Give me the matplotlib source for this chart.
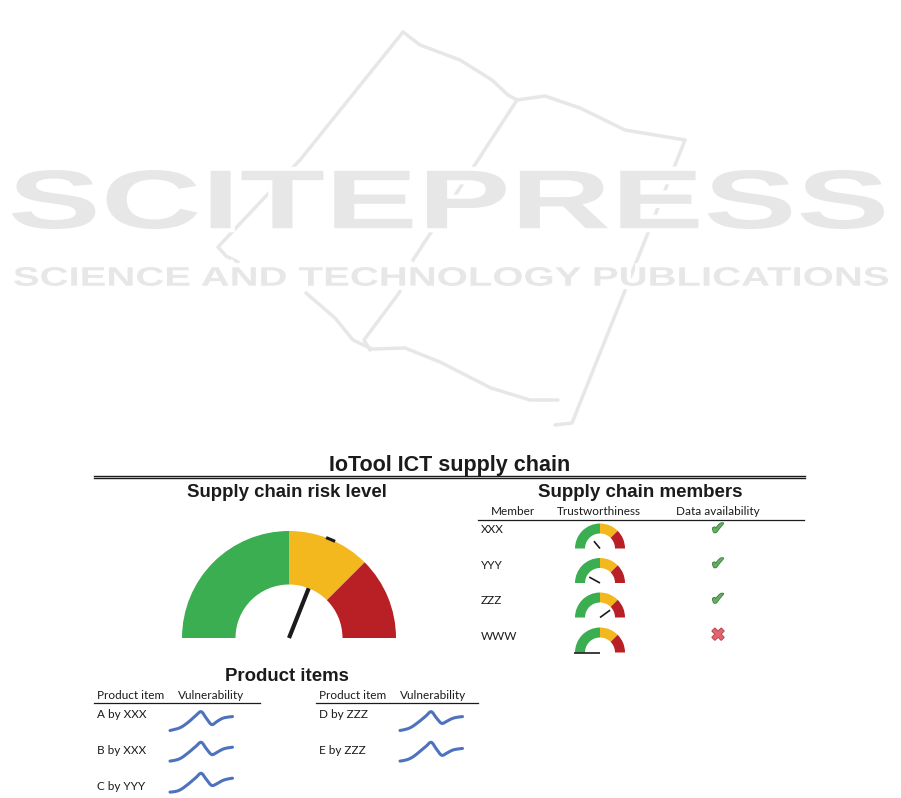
"""
IoTool ICT supply chain dashboard:
risk gauge, member trust gauges with data availability flags,
and product vulnerability sparklines. Saves out.png.
"""
import matplotlib

matplotlib.use("Agg")
import matplotlib.pyplot as plt
import matplotlib.patheffects as pe
import numpy as np
from matplotlib.font_manager import FontProperties
from matplotlib.patches import PathPatch
from matplotlib.path import Path
from matplotlib.textpath import TextPath
from matplotlib.transforms import Affine2D

W, H = 901, 798

# ---------- data ----------
dashboard_title = "IoTool ICT supply chain"
risk_level = 0.62                      # 0 = low risk, 1 = high risk
gauge_bands = [50, 25, 25]             # green / yellow / red share of the dial
band_colors = ["#3aae50", "#f2b81e", "#b92025"]

members = ["XXX", "YYY", "ZZZ", "WWW"]
trust = [0.28, 0.16, 0.80, 0.0]
data_available = [True, True, True, False]

products_left = ["A by XXX", "B by XXX", "C by YYY"]
products_right = ["D by ZZZ", "E by ZZZ"]
vuln_a = [3.00, 3.20, 3.47, 4.00, 4.67, 5.42, 6.00, 4.92, 3.95, 4.42, 4.92, 5.12, 5.22]
vuln_b = [3.00, 3.15, 3.45, 4.05, 4.75, 5.50, 6.15, 5.05, 4.10, 4.45, 4.95, 5.20, 5.33]
vuln_c = [3.00, 3.10, 3.40, 4.00, 4.70, 5.45, 6.15, 5.10, 4.12, 4.40, 4.90, 5.18, 5.33]
vuln_d = [3.00, 3.18, 3.48, 4.05, 4.72, 5.45, 6.15, 5.10, 4.20, 4.55, 5.00, 5.22, 5.33]
vuln_e = [3.00, 3.15, 3.45, 4.00, 4.70, 5.40, 6.05, 4.95, 3.95, 4.30, 4.75, 4.95, 5.05]

TITLE_FONT = "Liberation Sans"
BODY_FONT = "Lato"
INK = "#1b1b1b"
WATERMARK = "#e6e7e6"
SPARK = "#4e72be"

fig = plt.figure(figsize=(W / 100, H / 100), dpi=100)
ax = fig.add_axes([0, 0, 1, 1])
ax.set_xlim(0, W)
ax.set_ylim(H, 0)
ax.axis("off")


def px_axes(x0, y_top, w, h):
    """Axes placed by pixel box (origin top-left)."""
    return fig.add_axes([x0 / W, 1 - (y_top + h) / H, w / W, h / H])


def fit_text(s, x0, x1, y0, y1):
    """Watermark text stretched to fill a pixel box."""
    tp = TextPath((0, 0), s, size=100, prop=FontProperties(family="Liberation Sans", weight="bold"))
    bb = tp.get_extents()
    tr = (Affine2D().translate(-bb.x0, -bb.y0)
          .scale((x1 - x0) / bb.width, -(y1 - y0) / bb.height)
          .translate(x0, y1))
    path = tr.transform_path(tp)
    ax.add_patch(PathPatch(path, facecolor="white", edgecolor="white", lw=6, zorder=1))
    ax.add_patch(PathPatch(path, facecolor=WATERMARK, edgecolor="none", zorder=2))


def smooth_line(a, xs, ys, **kw):
    """Excel-style smoothed line: Catmull-Rom segments drawn as cubic Beziers."""
    p = np.column_stack([xs, ys]).astype(float)
    m = np.empty_like(p)
    m[1:-1] = (p[2:] - p[:-2]) / 2
    m[0] = p[1] - p[0]
    m[-1] = p[-1] - p[-2]
    verts, codes = [p[0]], [Path.MOVETO]
    for i in range(len(p) - 1):
        verts += [p[i] + m[i] / 3, p[i + 1] - m[i + 1] / 3, p[i + 1]]
        codes += [Path.CURVE4] * 3
    a.add_patch(PathPatch(Path(verts, codes), fill=False, clip_on=False, **kw))


# ---------- watermark (publisher logo) ----------
book = [
    [(403, 32), (300, 160), (218, 247), (226, 256), (238, 262)],
    [(403, 32), (420, 45), (460, 60), (492, 80), (508, 95), (517, 100)],
    [(517, 100), (545, 96), (580, 108), (625, 130), (685, 140)],
    [(685, 140), (624, 293), (572, 423), (555, 425)],
    [(517, 100), (413, 260), (399, 293), (364, 340), (370, 350)],
    [(306, 293), (335, 318), (353, 340), (372, 349), (405, 348), (440, 362),
     (491, 388), (530, 400), (558, 400)],
]
for line in book:
    xs, ys = zip(*line)
    ax.plot(xs, ys, color=WATERMARK, lw=2.5, solid_capstyle="round", zorder=0)
fit_text("SCITEPRESS", 12, 884, 170, 229)
fit_text("SCIENCE AND TECHNOLOGY PUBLICATIONS", 14, 888, 267, 286)

# ---------- headings and rules ----------
title_kw = dict(family=TITLE_FONT, weight="bold", color=INK, ha="center", va="baseline", zorder=5)
ax.text(450, 471, dashboard_title, fontsize=15.5, **title_kw)
for y in (475.5, 478.2):
    ax.plot([94, 805], [y, y], color=INK, lw=1.0, zorder=5)
ax.text(287, 497, "Supply chain risk level", fontsize=13.4, **title_kw)
ax.text(640, 497, "Supply chain members", fontsize=13.5, **title_kw)
ax.text(286.5, 681, "Product items", fontsize=13.4, **title_kw)

body_kw = dict(family=BODY_FONT, color=INK, va="baseline", fontsize=8.5, zorder=5)
for label, x in zip(["Member", "Trustworthiness", "Data availability"], [513, 599, 718]):
    ax.text(x, 515, label, ha="center", **body_kw)
ax.plot([478, 804], [519.5, 519.5], color=INK, lw=0.9)

for x0, x1 in [(94, 260), (316, 478)]:
    ax.text(x0 + 3, 699, "Product item", ha="left", **body_kw)
    ax.text(x0 + 84, 699, "Vulnerability", ha="left", **body_kw)
    ax.plot([x0, x1], [703, 703], color=INK, lw=0.9)


# ---------- gauges ----------
def gauge(cx, base_y, r, value, width, needle_len, needle_lw, tip_mark=False):
    pad = 0.06
    g = px_axes(cx - r * (1 + pad), base_y - r * (1 + pad), 2 * r * (1 + pad), r * (1 + pad))
    g.pie(gauge_bands + [sum(gauge_bands)], colors=band_colors + ["none"],
          startangle=180, counterclock=False, radius=1,
          wedgeprops=dict(width=width, linewidth=0))
    g.set_aspect("auto")
    g.set_xlim(-1 - pad, 1 + pad)
    g.set_ylim(0, 1 + pad)
    g.axis("off")
    ang = np.radians(180 - value * 180)
    g.plot([0, needle_len * np.cos(ang)], [0, needle_len * np.sin(ang)],
           color=INK, lw=needle_lw, solid_capstyle="butt", clip_on=False)
    if tip_mark:
        arc = np.radians(180 - value * 180 + np.array([-1.8, 0, 1.8]) - 1.3)
        g.plot(np.cos(arc) * 1.0, np.sin(arc) * 1.0, color=INK, lw=2.2, clip_on=False)


gauge(289, 638, 107, risk_level, 0.5, 0.5, 3.0, tip_mark=True)

row_base = [548.5, 583, 617.5, 652.5]
needle_len = [0.38, 0.49, 0.5, 1.04]
name_y = [533, 569, 604.5, 640]
flag_y = [529, 564, 599.5, 635.5]
for name, t, ok, gy, ny, fy, nl in zip(members, trust, data_available,
                                         row_base, name_y, flag_y, needle_len):
    ax.text(481, ny, name, ha="left", **body_kw)
    gauge(600, gy, 25, t, 0.4, nl, 1.2)
    mark, col, edge = ("\u2714", "#62b060", "#3f7f3f") if ok else ("\u2716", "#e2646e", "#b04050")
    ax.text(718, fy, mark, ha="center", va="center", fontsize=12.5, color=col,
            family="DejaVu Sans", zorder=5,
            path_effects=[pe.withStroke(linewidth=1.2, foreground=edge)])

# ---------- product sparklines ----------
spark_top = [711.7, 742.3, 773.3]
spark_h = 18.8
text_y = [717.5, 753.5, 790]
columns = [
    (97, 170, products_left, [vuln_a, vuln_b, vuln_c]),
    (319, 400, products_right, [vuln_d, vuln_e]),
]
for tx, sx, names, series in columns:
    for i, (name, vals) in enumerate(zip(names, series)):
        ax.text(tx, text_y[i], name, ha="left", **body_kw)
        s = px_axes(sx, spark_top[i], 62.5, spark_h)
        smooth_line(s, np.arange(len(vals)), vals, edgecolor=SPARK, lw=2.2,
                    joinstyle="round", capstyle="round")
        s.set_xlim(0, len(vals) - 1)
        s.set_ylim(min(vals), max(vals))
        s.axis("off")

fig.savefig("out.png", dpi=100)
